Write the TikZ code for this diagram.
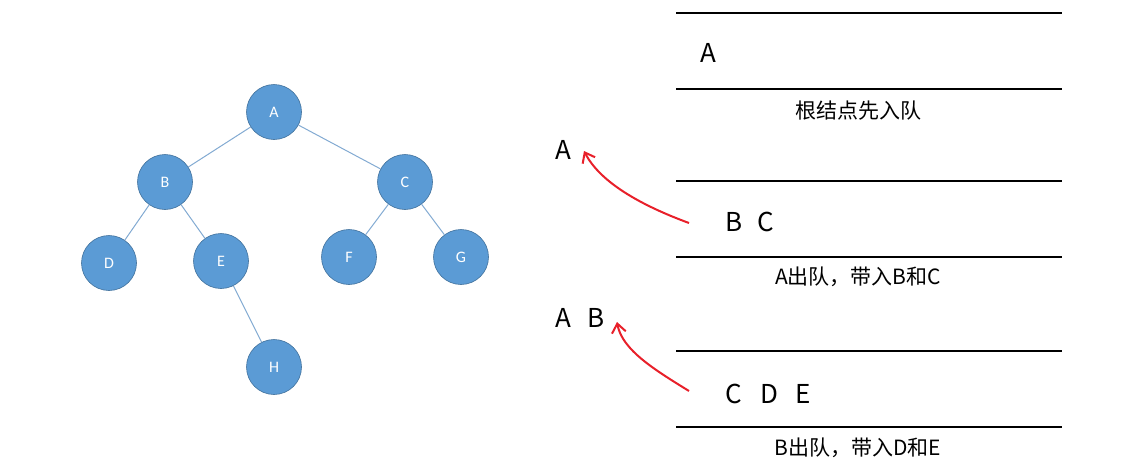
\documentclass[tikz,border=0pt]{standalone}
\usepackage{fontspec}
\setmainfont{Carlito}
\newfontfamily\cjk{Noto Sans CJK SC}
\usetikzlibrary{arrows.meta}
\definecolor{nodeblue}{HTML}{5B9BD5}
\definecolor{nodeedge}{HTML}{41719C}
\definecolor{treeline}{HTML}{82AAD2}
\definecolor{markred}{HTML}{E8202A}
\tikzset{
  qline/.style={line width=2.8pt, line cap=butt},
  qtext/.style={inner sep=0pt, font=\cjk\fontsize{26}{26}\selectfont},
  qnote/.style={inner sep=0pt, font=\cjk\fontsize{21}{21}\selectfont},
  redarrow/.style={draw=markred, line width=2pt, -{Straight Barb[length=9pt,width=14pt,line width=2pt]}}
}
\begin{document}
\begin{tikzpicture}[x=1pt,y=-1pt]
    \useasboundingbox (0,0) rectangle (1135,466);
    % the tree
    \begin{scope}[every node/.style={circle, fill=nodeblue, draw=nodeedge, line width=0.6pt, minimum size=55pt, inner sep=0pt, text=white, font=\fontsize{16}{16}\selectfont}]
        \node (A) at (274,112) {A};
        \node (B) at (165,182) {B};
        \node (C) at (405,182) {C};
        \node (D) at (109,263) {D};
        \node (E) at (221,261) {E};
        \node (F) at (349,257) {F};
        \node (G) at (461,257) {G};
        \node (H) at (274,367) {H};
    \end{scope}
    \begin{scope}[every edge/.style={draw=treeline, line width=1pt}]
        \path [-] (A) edge (B) (A) edge (C);
        \path [-] (B) edge (D) (B) edge (E) (E) edge (H);
        \path [-] (C) edge (F) (C) edge (G);
    \end{scope}
    % the queue
    \foreach \y in {13,89,181,257,351,427}
        \draw [qline] (676,\y) -- (1062,\y);
    \node [qtext] (q1) at (708,53) {A};
    \node [qnote] (n1) at (858,111) {根结点先入队};
    \node [qtext] (q2b) at (734,222) {B};
    \node [qtext] (q2c) at (766,222) {C};
    \node [qnote] (n2) at (858,277) {A出队，带入B和C};
    \node [qtext] (q3c) at (734,394) {C};
    \node [qtext] (q3d) at (769,394) {D};
    \node [qtext] (q3e) at (803,394) {E};
    \node [qnote] (n3) at (858,448) {B出队，带入D和E};
    % dequeued
    \node [qtext] (outA) at (563,150) {A};
    \node [qtext] (outA2) at (563,318) {A};
    \node [qtext] (outB) at (596,318) {B};
    \coordinate (from1) at (689,223);
    \coordinate (to1) at (584,151);
    \coordinate (from2) at (689,391);
    \coordinate (to2) at (617,322);
    \draw [redarrow] (from1) .. controls (640,205) and (600,182) .. (to1);
    \draw [redarrow] (from2) .. controls (655,370) and (622,350) .. (to2);
\end{tikzpicture}
\end{document}
